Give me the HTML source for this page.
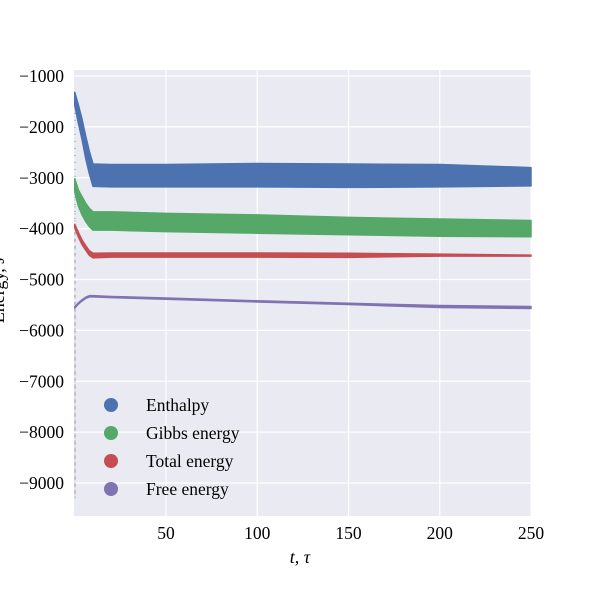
<!DOCTYPE html>
<html><head><meta charset="utf-8"><style>
body{margin:0;background:#fff;}
svg text{font-family:"Liberation Serif",serif;}
</style></head><body>
<svg id="chart" width="590" height="590" viewBox="0 0 590 590" xmlns="http://www.w3.org/2000/svg">
<rect x="74" y="70" width="457" height="446" fill="#eaeaf2"/>
<g id="grid"></g><g id="series"></g><g id="ticks"></g>
<text x="300" y="563" font-size="18" text-anchor="middle" font-style="italic">t, τ</text>
<text transform="translate(4,290) rotate(-90)" font-size="18" text-anchor="middle">Energy, J</text>
<g id="legend"></g>
</svg>
<script>
const times=[0,2,4,6,8,10,20,50,100,150,200,250];
const enthalpy=[-1450,-1750,-2050,-2400,-2700,-2950,-2960,-2960,-2950,-2960,-2960,-2980];
const enthalpyBand=[130,180,200,220,220,220,220,220,230,230,220,180];
const gibbs=[-3150,-3400,-3550,-3680,-3780,-3850,-3850,-3880,-3910,-3950,-3980,-4000];
const gibbsBand=[130,160,180,180,180,180,180,180,180,170,170,160];
const total=[-3950,-4120,-4270,-4380,-4480,-4530,-4520,-4520,-4520,-4525,-4520,-4530];
const totalBand=[35,45,45,45,45,45,40,40,40,40,20,10];
const freeE=[-5550,-5470,-5410,-5360,-5330,-5330,-5345,-5375,-5430,-5480,-5530,-5550];
const freeBand=[12,12,12,12,12,12,12,12,12,12,20,20];
const xTicks=[50,100,150,200,250];
const yTicks=[-1000,-2000,-3000,-4000,-5000,-6000,-7000,-8000,-9000];
const names=["Enthalpy","Gibbs energy","Total energy","Free energy"];
const colors=["#4c72b0","#55a868","#c44e52","#8172b2"];
const X=v=>74.75+v*1.825;
const Y=v=>76+(-1000-v)*0.050875;
const NS="http://www.w3.org/2000/svg";
function mk(t,a,p){const e=document.createElementNS(NS,t);for(const k in a)e.setAttribute(k,a[k]);p.appendChild(e);return e;}
const grid=document.getElementById('grid'),ticks=document.getElementById('ticks'),ser=document.getElementById('series'),leg=document.getElementById('legend');
xTicks.forEach(t=>{
 const l=mk('line',{x1:X(t),x2:X(t),y1:70,y2:516,stroke:'#fff','stroke-width':1.2},grid);
 
 
 const tx=mk('text',{x:X(t),y:539,'font-size':17.5,'text-anchor':'middle'},ticks);tx.textContent=t;
 
 
});
yTicks.forEach(t=>{
 const l=mk('line',{x1:74,x2:531,y1:Y(t),y2:Y(t),stroke:'#fff','stroke-width':1.2},grid);
 
 
 const tx=mk('text',{x:64,y:Y(t)+6,'font-size':17.5,'text-anchor':'end'},ticks);tx.textContent='−'+Math.abs(t);
 
 
});
const all=[[enthalpy,enthalpyBand],[gibbs,gibbsBand],[total,totalBand],[freeE,freeBand]];
all.forEach((s,i)=>{
 const [m,b]=s;
 let d='M'+times.map((t,k)=>X(t)+','+Y(m[k]+b[k])).join('L');
 d+='L'+times.slice().reverse().map((t,k)=>{const j=times.length-1-k;return X(t)+','+Y(m[j]-b[j]);}).join('L')+'Z';
 const p=mk('path',{d:d,fill:colors[i],stroke:colors[i],'stroke-width':1.5,'stroke-linejoin':'round'},ser);
 
 
 const dl=mk('line',{x1:75,x2:75,y1:Y(m[0]),y2:Y(-9300),stroke:colors[i],'stroke-width':1,'stroke-dasharray':'1 6',opacity:0.8},ser);
 
 
 const c=mk('circle',{cx:111,cy:405+i*28,r:7,fill:colors[i]},leg);
 
 
 const tx=mk('text',{x:146,y:411+i*28,'font-size':17.5},leg);tx.textContent=names[i];
 
 
});
</script>
</body></html>
